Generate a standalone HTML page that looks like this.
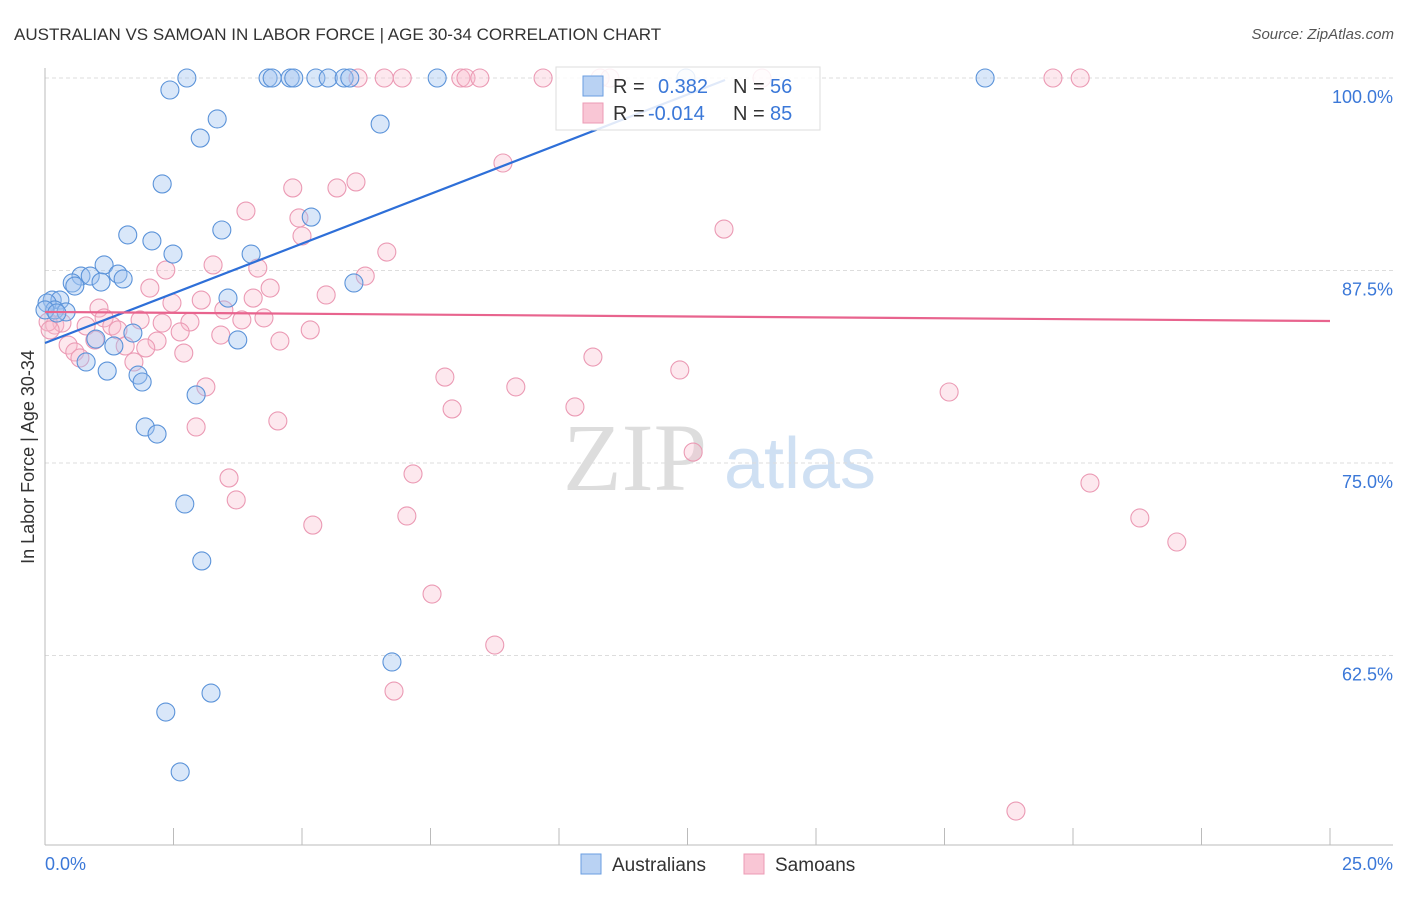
<!DOCTYPE html>
<html><head><meta charset="utf-8"><style>
body{margin:0;background:#fff;font-family:"Liberation Sans",sans-serif}
svg text{font-family:"Liberation Sans",sans-serif}
</style></head><body>
<svg id="c" width="1406" height="892">
<text x="14" y="40" font-size="17" fill="#333">AUSTRALIAN VS SAMOAN IN LABOR FORCE | AGE 30-34 CORRELATION CHART</text>
<text x="1394" y="39" font-size="15" fill="#555" font-style="italic" text-anchor="end">Source: ZipAtlas.com</text>
<g><text x="635" y="490" font-size="96" fill="#ddd" style="font-family:'Liberation Serif',serif" text-anchor="middle">ZIP</text><text x="800" y="488" font-size="72" fill="#cfe0f3" text-anchor="middle">atlas</text></g>
<g id="grid"></g><g id="pts"></g><g id="lines"></g>
<text transform="translate(34,457) rotate(-90)" font-size="18" fill="#333" text-anchor="middle">In Labor Force | Age 30-34</text>
<text x="45" y="870" font-size="18" fill="#3b78d8">0.0%</text>
<text x="1393" y="870" font-size="18" fill="#3b78d8" text-anchor="end">25.0%</text>
<g>
<rect x="556" y="67" width="264" height="63" fill="rgba(255,255,255,0.85)" stroke="#ddd"/>
<rect x="583" y="76" width="20" height="20" fill="#b9d2f3" stroke="#6a9ee0"/>
<rect x="583" y="103" width="20" height="20" fill="#f9c6d5" stroke="#ec9bb5"/>
<text x="613" y="93" font-size="20" fill="#333">R = </text><text x="658" y="93" font-size="20" fill="#3b78d8">0.382</text>
<text x="733" y="93" font-size="20" fill="#333">N = </text><text x="770" y="93" font-size="20" fill="#3b78d8">56</text>
<text x="613" y="120" font-size="20" fill="#333">R = </text><text x="648" y="120" font-size="20" fill="#3b78d8">-0.014</text>
<text x="733" y="120" font-size="20" fill="#333">N = </text><text x="770" y="120" font-size="20" fill="#3b78d8">85</text>
</g>
<g>
<rect x="581" y="854" width="20" height="20" fill="#b9d2f3" stroke="#6a9ee0"/><text x="612" y="871" font-size="19" fill="#333">Australians</text>
<rect x="744" y="854" width="20" height="20" fill="#f9c6d5" stroke="#ec9bb5"/><text x="775" y="871" font-size="19" fill="#333">Samoans</text>
</g>
</svg>
<script>
const yTicks=[100,87.5,75,62.5];
const yTickLabels=["100.0%","87.5%","75.0%","62.5%"];
const xTicks=[2.5,5,7.5,10,12.5,15,17.5,20,22.5,25];
const ausX=[2.76,2.43,4.34,4.42,4.77,4.84,5.27,5.51,5.82,5.93,7.63,18.29,12.47,3.02,3.35,2.28,6.52,5.18,1.61,2.08,3.44,2.49,4.01,6.01,3.56,3.75,1.15,0.70,0.88,1.42,1.52,0.53,0.58,1.09,0.14,0.29,0.04,0.19,0.41,0,0.23,0.99,1.71,1.34,1.81,1.89,1.21,0.80,2.94,1.95,2.18,2.72,3.05,6.75,3.23,2.35,2.63];
const ausY=[100,99.22,100,100,100,100,100,100,100,100,100,100,100,96.1,97.34,93.12,97.01,90.97,89.81,89.42,90.13,88.57,88.57,86.69,85.71,82.99,87.86,87.14,87.14,87.27,86.95,86.69,86.49,86.75,85.58,85.58,85.39,84.94,84.81,84.94,84.74,83.05,83.44,82.6,80.71,80.26,80.97,81.56,79.42,77.34,76.88,72.34,68.64,62.08,60.06,58.83,54.94];
const samX=[6.60,6.95,8.09,8.19,8.46,9.69,10.80,10.99,13.95,19.61,20.14,6.09,8.91,4.82,5.68,6.05,3.91,4.94,5.00,6.65,13.21,2.35,3.27,4.14,6.23,2.04,4.38,3.04,2.47,5.47,4.05,3.48,1.05,1.15,1.85,2.28,2.82,3.83,4.26,0.80,0.19,0.33,1.30,1.42,2.63,5.16,3.42,4.57,0.97,1.56,2.18,1.96,0.45,0.58,0.68,2.70,1.73,10.66,12.35,7.78,9.16,3.13,17.59,7.92,10.31,2.94,4.53,12.61,7.16,3.58,3.72,20.33,7.04,5.21,21.30,22.02,7.53,8.75,6.79,18.89,0.06,0.10];
const samY=[100,100,100,100,100,100,100,100,100,100,100,100,94.48,92.86,92.86,93.25,91.36,90.91,89.74,88.70,90.19,87.53,87.86,87.66,87.14,86.36,86.36,85.58,85.39,85.91,85.71,84.94,85.06,84.42,84.29,84.09,84.16,84.29,84.42,83.90,83.96,84.09,83.90,83.64,83.51,83.64,83.31,82.92,82.99,82.60,82.92,82.47,82.66,82.21,81.82,82.14,81.56,81.88,81.04,80.58,79.94,79.94,79.61,78.51,78.64,77.34,77.73,75.71,74.29,74.03,72.60,73.70,71.56,70.97,71.43,69.87,66.49,63.18,60.19,52.40,84.16,83.64];
const ausTrend=[82.79,1.291,13.23];
const samTrend=[84.81,-0.0236,25];
const NS="http://www.w3.org/2000/svg";
const X=v=>45+v/25*1285, Y=v=>78+(100-v)/12.5*192.5;
function mk(t,a,p){const e=document.createElementNS(NS,t);for(const k in a)e.setAttribute(k,a[k]);p.appendChild(e);return e;}
const g=document.getElementById('grid');
yTicks.forEach((t,i)=>{const l=mk('line',{x1:45,x2:1393,y1:Y(t),y2:Y(t),stroke:'#ddd','stroke-dasharray':'4,3'},g);


const tx=mk('text',{x:1393,y:Y(t)+25,'font-size':18,fill:'#3b78d8','text-anchor':'end'},g);tx.textContent=yTickLabels[i];

});
const ax=mk('line',{x1:45,x2:45,y1:68,y2:845,stroke:'#bbb'},g);


const bx=mk('line',{x1:45,x2:1393,y1:845,y2:845,stroke:'#bbb'},g);


xTicks.forEach(t=>{const l=mk('line',{x1:X(t),x2:X(t),y1:828,y2:845,stroke:'#bbb'},g);

});
const p=document.getElementById('pts');
samX.forEach((v,i)=>{const c=mk('circle',{cx:X(v),cy:Y(samY[i]),r:9,fill:'rgba(248,188,206,0.35)',stroke:'#eb9ab4','stroke-width':1.1},p);

});
ausX.forEach((v,i)=>{const c=mk('circle',{cx:X(v),cy:Y(ausY[i]),r:9,fill:'rgba(160,195,240,0.4)',stroke:'#5b93d9','stroke-width':1.1},p);

});
const L=document.getElementById('lines');
const t1=mk('line',{x1:X(0),y1:Y(ausTrend[0]),x2:X(ausTrend[2]),y2:Y(ausTrend[0]+ausTrend[1]*ausTrend[2]),stroke:'#2e6fd8','stroke-width':2.2},L);


const t2=mk('line',{x1:X(0),y1:Y(samTrend[0]),x2:X(samTrend[2]),y2:Y(samTrend[0]+samTrend[1]*samTrend[2]),stroke:'#e8648e','stroke-width':2.2},L);


</script>
</body></html>
